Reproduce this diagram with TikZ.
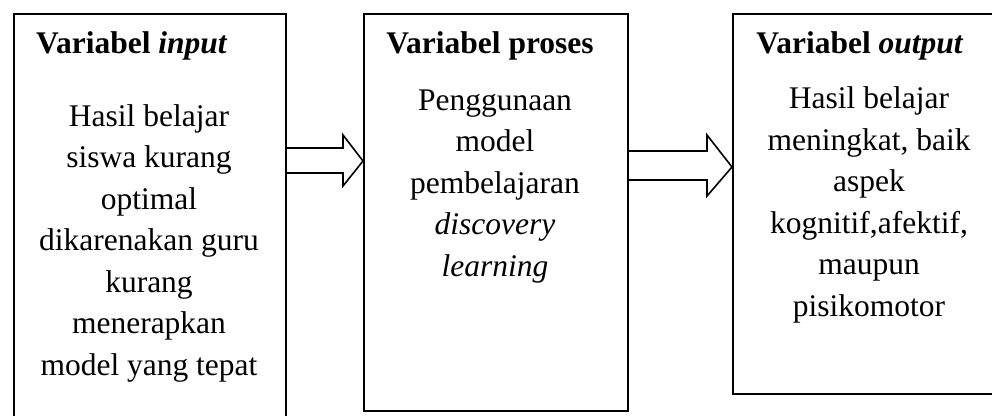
\documentclass[tikz,border=0pt]{standalone}
\usepackage{fontspec}
\setmainfont{Liberation Serif}
\usetikzlibrary{positioning, calc}

\tikzset{
    box/.style={draw, line width=1.6pt, rectangle, anchor=north west, inner sep=0pt},
    boxtitle/.style={font=\fontsize{31.5}{41.5}\selectfont\bfseries, anchor=base, inner sep=0pt},
    boxtext/.style={font=\fontsize{31.5}{41.5}\selectfont, align=center, anchor=base, inner sep=0pt}, % base = last line
    blockarrow/.style={draw, line width=1.6pt, line join=miter}
}

\begin{document}
\begin{tikzpicture}[x=1pt, y=-1pt]

    \useasboundingbox (0,0) rectangle (992,415);
    \clip (0,0) rectangle (992,415);

    % the three boxes
    \node[box, minimum width=272pt, minimum height=420pt] (inbox) at (13,13) {};
    \node[box, minimum width=264pt, minimum height=397pt] (procbox) at (363,13) {};
    \node[box, minimum width=263pt, minimum height=380pt] (outbox) at (732,13) {};

    \node[boxtitle, anchor=base west] (intitle) at (36,53) {Variabel \textit{input}};
    \node[boxtitle] (proctitle) at (490,53) {Variabel proses};
    \node[boxtitle] (outtitle) at (860,53) {Variabel \textit{output}};

    \node[boxtext] (intext) at (149,375) {Hasil belajar\\siswa kurang\\optimal\\dikarenakan guru\\kurang\\menerapkan\\model yang tepat};
    \node[boxtext] (proctext) at (495,276) {Penggunaan\\model\\pembelajaran\\\textit{discovery}\\\textit{learning}};
    \node[boxtext] (outtext) at (869,316) {Hasil belajar\\meningkat, baik\\aspek\\kognitif,afektif,\\maupun\\pisikomotor};

    % block arrows
    \draw[blockarrow] (inbox.east |- 0,148) -- (343,148) -- (343,135) -- (procbox.west |- 0,161)
        -- (343,186) -- (343,173) -- (inbox.east |- 0,173);
    \draw[blockarrow] (procbox.east |- 0,151) -- (707,151) -- (707,135) -- (outbox.west |- 0,167)
        -- (707,196) -- (707,180) -- (procbox.east |- 0,180);

\end{tikzpicture}
\end{document}
